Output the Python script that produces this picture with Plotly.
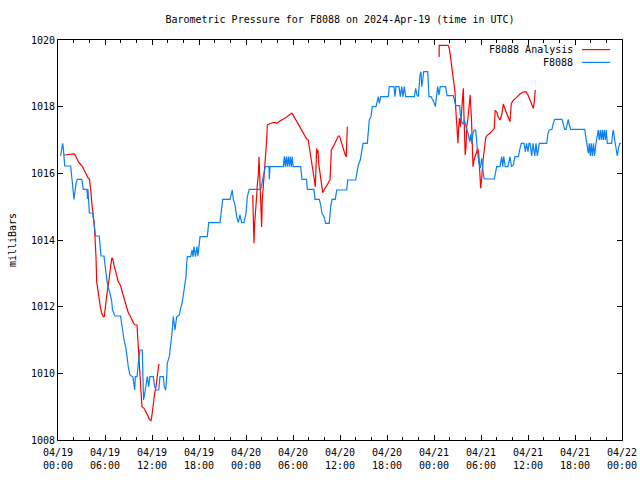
import pandas as pd
import plotly.graph_objects as go

# ---------------- data ----------------
base_time = "2024-04-19 00:00"

# F8088 station observations (hours since 04/19 00:00 UTC, millibars)
obs_hours = [0.34, 0.47, 0.60, 0.68, 0.77, 0.86, 1.62, 1.70, 1.79, 1.88, 2.04, 2.30, 2.46, 3.03, 3.15, 3.23,
             3.70, 3.77, 3.83, 4.00, 4.43, 4.51, 4.63, 4.79, 5.27, 5.36, 5.49, 5.87, 6.00, 6.13, 6.29, 6.64,
             6.86, 6.96, 7.28, 7.98, 8.17, 8.43, 8.68, 8.77, 8.97, 9.19, 9.57, 9.70, 9.79, 9.87, 10.09, 10.25,
             10.47, 10.76, 10.85, 10.92, 11.07, 11.32, 11.40, 11.58, 11.74, 12.17, 12.34, 12.51, 12.86, 13.02,
             13.44, 13.57, 13.75, 13.88, 13.95, 14.21, 14.39, 14.55, 14.72, 14.94, 15.15, 15.49, 15.66, 15.83,
             16.00, 16.17, 16.34, 16.43, 16.51, 16.94, 17.11, 17.23, 17.36, 17.55, 17.74, 17.87, 18.00, 18.13,
             19.06, 19.24, 20.68, 20.85, 21.03, 21.96, 22.12, 22.25, 22.38, 22.60, 22.81, 23.02, 23.23, 23.45,
             23.74, 24.00, 24.17, 24.42, 25.88, 26.13, 26.46, 26.94, 26.97, 27.06, 28.76, 28.89, 29.02, 29.14,
             29.27, 29.40, 29.53, 29.65, 29.78, 29.91, 30.00, 30.98, 31.15, 31.72, 31.83, 32.68, 32.81, 33.36,
             33.54, 33.70, 33.96, 34.17, 34.63, 34.81, 34.98, 35.40, 35.58, 36.86, 36.98, 38.00, 38.17, 38.34,
             38.59, 38.77, 38.94, 39.49, 39.61, 39.74, 39.96, 40.12, 40.60, 40.76, 40.89, 41.02, 41.20, 42.17,
             42.29, 42.89, 43.02, 43.15, 43.53, 43.70, 43.88, 44.04, 44.21, 44.39, 45.49, 45.66, 45.83, 46.00,
             46.21, 46.34, 46.43, 46.56, 46.69, 47.20, 47.36, 47.62, 47.96, 48.17, 48.34, 48.47, 48.64, 48.80,
             49.49, 49.66, 50.46, 50.59, 50.77, 51.28, 51.36, 51.54, 51.70, 51.87, 52.00, 52.17, 52.38, 52.56,
             52.69, 52.81, 52.94, 53.14, 53.32, 53.45, 53.58, 53.74, 53.91, 54.09, 54.17, 54.29, 54.42, 55.70,
             56.00, 56.43, 56.64, 56.77, 56.90, 57.10, 57.45, 57.70, 57.89, 58.12, 58.34, 58.76, 58.98, 59.14,
             59.49, 59.66, 59.81, 60.00, 60.13, 60.26, 60.47, 60.64, 60.86, 61.02, 61.19, 61.44, 62.39, 62.55,
             62.72, 63.06, 63.23, 63.41, 64.34, 64.51, 64.68, 64.85, 65.02, 65.14, 65.27, 65.45, 67.24, 67.40,
             67.57, 67.70, 67.83, 67.95, 68.08, 68.21, 68.36, 68.49, 68.68, 68.85, 68.97, 69.10, 69.23, 69.36,
             69.49, 69.61, 69.74, 69.87, 69.99, 70.12, 70.68, 70.81, 70.89, 71.07, 71.23, 71.40, 71.58, 71.74,
             71.87]
obs_mb = [1016.52, 1016.80, 1016.90, 1016.75, 1016.55, 1016.22, 1016.22, 1016.02, 1015.70, 1015.45, 1015.22,
          1015.70, 1015.82, 1015.82, 1015.65, 1015.52, 1015.52, 1015.23, 1015.52, 1014.81, 1014.81, 1014.60,
          1014.32, 1014.12, 1014.12, 1013.80, 1013.52, 1013.52, 1013.20, 1012.90, 1012.70, 1012.40, 1012.15,
          1011.90, 1011.72, 1011.72, 1011.40, 1011.00, 1010.75, 1010.50, 1010.20, 1009.95, 1009.89, 1009.65,
          1009.50, 1009.90, 1009.90, 1010.30, 1010.70, 1010.70, 1009.90, 1009.20, 1009.40, 1009.70, 1009.90,
          1009.60, 1009.90, 1009.90, 1009.60, 1009.50, 1009.50, 1009.90, 1009.90, 1009.60, 1009.50, 1009.90,
          1010.30, 1010.50, 1010.80, 1011.20, 1011.70, 1011.30, 1011.70, 1011.75, 1011.95, 1012.10, 1012.35,
          1012.60, 1012.90, 1013.30, 1013.50, 1013.50, 1013.70, 1013.50, 1013.80, 1013.50, 1013.80, 1013.52,
          1013.80, 1014.10, 1014.10, 1014.52, 1014.52, 1014.85, 1015.22, 1015.22, 1015.40, 1015.50, 1015.22,
          1015.05, 1014.70, 1014.52, 1014.75, 1014.52, 1014.52, 1014.80, 1015.30, 1015.52, 1015.52, 1015.80,
          1016.20, 1016.20, 1015.82, 1016.20, 1016.20, 1016.50, 1016.20, 1016.50, 1016.20, 1016.50, 1016.20,
          1016.50, 1016.20, 1016.50, 1016.20, 1016.20, 1015.82, 1015.82, 1015.52, 1015.52, 1015.22, 1015.22,
          1015.05, 1014.80, 1014.70, 1014.50, 1014.50, 1015.00, 1015.22, 1015.22, 1015.50, 1015.50, 1015.80,
          1015.80, 1016.10, 1016.25, 1016.40, 1016.65, 1016.90, 1016.90, 1017.20, 1017.60, 1017.70, 1018.00,
          1018.00, 1018.20, 1018.30, 1018.10, 1018.30, 1018.30, 1018.60, 1018.60, 1018.30, 1018.60, 1018.60,
          1018.30, 1018.60, 1018.30, 1018.60, 1018.30, 1018.30, 1018.55, 1018.35, 1018.30, 1018.95, 1019.05,
          1018.60, 1018.80, 1019.05, 1019.05, 1018.30, 1018.30, 1018.15, 1018.00, 1018.40, 1018.60, 1018.35,
          1018.60, 1018.60, 1018.33, 1018.33, 1018.17, 1018.03, 1018.03, 1017.75, 1017.55, 1017.47, 1017.60,
          1017.45, 1017.33, 1017.17, 1016.95, 1017.17, 1016.90, 1017.17, 1017.30, 1017.30, 1016.85, 1016.60,
          1016.30, 1016.16, 1016.45, 1016.20, 1016.00, 1015.83, 1015.83, 1016.20, 1016.20, 1016.50, 1016.20,
          1016.50, 1016.20, 1016.20, 1016.50, 1016.20, 1016.25, 1016.50, 1016.50, 1016.75, 1016.90, 1016.90,
          1016.65, 1016.90, 1016.65, 1016.90, 1016.90, 1016.52, 1016.90, 1016.52, 1016.90, 1016.52, 1016.90,
          1016.90, 1017.20, 1017.30, 1017.32, 1017.50, 1017.62, 1017.62, 1017.45, 1017.32, 1017.32, 1017.50,
          1017.62, 1017.45, 1017.32, 1017.32, 1017.10, 1016.75, 1016.60, 1016.90, 1016.52, 1016.90, 1016.52,
          1016.90, 1016.52, 1016.90, 1017.20, 1017.30, 1017.00, 1017.30, 1017.00, 1017.30, 1017.00, 1017.30,
          1017.00, 1017.30, 1016.90, 1016.90, 1017.20, 1017.30, 1017.00, 1016.80, 1016.52, 1016.80, 1016.90,
          1016.90]

# F8088 Analysis, three separate runs
ana1_hours = [0.80, 2.08, 2.30, 2.59, 2.94, 3.10, 3.28, 3.54, 3.70, 3.87, 4.02, 4.12, 4.21, 4.30, 4.38, 4.51,
              4.63, 4.72, 4.81, 4.85, 4.94, 5.07, 5.14, 5.27, 5.40, 5.58, 5.78, 5.91, 6.00, 6.13, 6.26, 6.34,
              6.51, 6.64, 6.77, 6.86, 6.98, 7.06, 7.19, 7.37, 7.53, 7.70, 7.88, 8.04, 8.13, 8.30, 8.46, 8.64,
              8.81, 8.97, 9.15, 9.32, 9.49, 9.66, 9.83, 10.09, 10.17, 10.25, 10.38, 10.56, 10.63, 10.72, 10.98,
              11.23, 11.49, 11.66, 11.87, 12.00, 12.17, 12.34, 12.51, 12.60, 12.68, 12.86, 12.93]
ana1_mb = [1016.55, 1016.58, 1016.50, 1016.35, 1016.25, 1016.22, 1016.12, 1016.00, 1015.90, 1015.85, 1015.82,
           1015.65, 1015.42, 1015.15, 1014.90, 1014.70, 1014.50, 1014.20, 1013.85, 1013.50, 1012.75, 1012.50,
           1012.35, 1012.20, 1012.00, 1011.80, 1011.70, 1011.70, 1011.95, 1012.15, 1012.40, 1012.60, 1012.80,
           1013.05, 1013.30, 1013.45, 1013.45, 1013.32, 1013.20, 1013.05, 1012.90, 1012.75, 1012.68, 1012.60,
           1012.50, 1012.35, 1012.20, 1012.05, 1011.90, 1011.82, 1011.75, 1011.65, 1011.58, 1011.50, 1011.45,
           1011.45, 1011.10, 1010.82, 1010.10, 1009.50, 1009.20, 1009.00, 1008.95, 1008.85, 1008.72, 1008.62,
           1008.58, 1008.75, 1009.10, 1009.40, 1009.60, 1009.80, 1010.00, 1010.25, 1010.28]

ana2_hours = [24.86, 24.93, 25.02, 25.11, 25.19, 25.28, 25.37, 25.44, 25.57, 25.66, 25.75, 25.83, 25.91, 26.00,
              26.08, 26.21, 26.30, 26.39, 26.46, 26.55, 26.64, 26.72, 27.28, 27.70, 27.92, 28.34, 28.76, 29.20,
              29.62, 29.87, 30.04, 30.47, 30.89, 31.31, 31.75, 31.95, 32.08, 32.26, 32.43, 32.59, 32.77, 32.85,
              32.97, 33.02, 33.10, 33.19, 33.28, 33.45, 33.61, 33.79, 33.96, 34.21, 34.51, 34.72, 34.81, 34.89,
              35.14, 35.36, 35.58, 35.78, 35.94, 36.13, 36.29, 36.47, 36.64, 36.80, 36.86, 36.93]
ana2_mb = [1015.35, 1014.40, 1013.90, 1014.50, 1014.70, 1015.05, 1015.35, 1015.65, 1015.95, 1016.49, 1015.80,
           1015.35, 1014.81, 1014.39, 1015.20, 1015.60, 1015.86, 1016.04, 1016.25, 1016.70, 1017.00, 1017.45,
           1017.51, 1017.53, 1017.50, 1017.57, 1017.62, 1017.69, 1017.77, 1017.80, 1017.74, 1017.57, 1017.41,
           1017.21, 1017.03, 1017.00, 1016.80, 1016.55, 1016.30, 1016.13, 1015.86, 1015.60, 1016.40, 1016.75,
           1016.60, 1016.70, 1016.30, 1015.95, 1015.60, 1015.42, 1015.50, 1015.60, 1015.70, 1015.80, 1016.20,
           1016.70, 1016.80, 1016.93, 1017.03, 1017.12, 1017.12, 1016.97, 1016.80, 1016.65, 1016.57, 1016.49,
           1016.95, 1017.40]

ana3_hours = [48.66, 48.66, 49.79, 49.94, 50.08, 50.23, 50.39, 50.55, 50.68, 50.77, 50.87, 50.97, 51.06, 51.15,
              51.26, 51.38, 51.48, 51.61, 51.74, 51.83, 51.92, 51.98, 52.09, 52.17, 52.34, 52.51, 52.62, 52.79,
              52.89, 52.98, 53.11, 53.27, 53.45, 53.58, 53.71, 53.78, 53.87, 53.96, 54.09, 54.17, 54.29, 54.47,
              54.61, 54.77, 55.15, 55.49, 55.70, 55.81, 56.00, 56.21, 56.43, 56.64, 56.85, 57.06, 57.28, 57.49,
              57.70, 57.87, 58.12, 58.56, 58.98, 59.40, 59.74, 60.00, 60.26, 60.47, 60.68, 60.80, 60.93]
ana3_mb = [1019.49, 1019.84, 1019.84, 1019.76, 1019.54, 1019.30, 1019.06, 1018.80, 1018.45, 1017.96, 1017.45,
           1017.00, 1016.90, 1017.40, 1017.66, 1017.40, 1017.81, 1018.38, 1018.55, 1017.70, 1017.00, 1016.55,
           1016.80, 1017.40, 1017.66, 1018.05, 1018.35, 1017.60, 1017.00, 1016.20, 1016.40, 1016.50, 1016.64,
           1016.75, 1016.60, 1016.30, 1015.90, 1015.55, 1015.86, 1016.25, 1016.46, 1016.79, 1017.08, 1017.14,
           1017.20, 1017.29, 1017.35, 1017.89, 1017.84, 1017.69, 1017.60, 1017.75, 1018.08, 1017.93, 1017.78,
           1017.68, 1017.55, 1018.10, 1018.19, 1018.28, 1018.38, 1018.44, 1018.45, 1018.35, 1018.19, 1018.05,
           1017.95, 1018.14, 1018.50]

tick_hours = [0, 6, 12, 18, 24, 30, 36, 42, 48, 54, 60, 66, 72]
tick_labels = ["04/19<br>00:00", "04/19<br>06:00", "04/19<br>12:00", "04/19<br>18:00",
               "04/20<br>00:00", "04/20<br>06:00", "04/20<br>12:00", "04/20<br>18:00",
               "04/21<br>00:00", "04/21<br>06:00", "04/21<br>12:00", "04/21<br>18:00",
               "04/22<br>00:00"]
y_ticks = [1008, 1010, 1012, 1014, 1016, 1018, 1020]

title_text = "Barometric Pressure for F8088 on 2024-Apr-19 (time in UTC)"
series_names = ["F8088 Analysis", "F8088"]
series_colors = ["#ff0000", "#0a80f5"]

# ---------------- build ----------------
t0 = pd.Timestamp(base_time)


def to_time(hours):
    return [t0 + pd.Timedelta(hours=h) for h in hours]


ana_x = to_time(ana1_hours) + [None] + to_time(ana2_hours) + [None] + to_time(ana3_hours)
ana_y = ana1_mb + [None] + ana2_mb + [None] + ana3_mb

FONT = "DejaVu Sans Mono"

fig = go.Figure()
fig.add_trace(go.Scatter(x=ana_x, y=ana_y, mode="lines", name=series_names[0],
                         line=dict(color=series_colors[0], width=1.2), connectgaps=False))
fig.add_trace(go.Scatter(x=to_time(obs_hours), y=obs_mb, mode="lines", name=series_names[1],
                         line=dict(color=series_colors[1], width=1.2)))

fig.update_layout(
    width=640, height=480,
    margin=dict(l=58, r=18, t=40, b=40, autoexpand=False),
    paper_bgcolor="white", plot_bgcolor="white",
    showlegend=False,
    font=dict(family=FONT, size=10, color="black"),
    title=dict(text=title_text, x=340 / 640, xanchor="center", y=1 - 19 / 480, yanchor="middle",
               font=dict(family=FONT, size=10, color="black")),
)

fig.update_xaxes(
    type="date", automargin=False,
    range=[t0, t0 + pd.Timedelta(hours=72)],
    tickmode="array", tickvals=to_time(tick_hours), ticktext=tick_labels,
    ticks="inside", ticklen=5, tickwidth=1, tickcolor="black",
    ticklabelstandoff=3,
    minor=dict(ticks="inside", ticklen=3, tickwidth=1, tickcolor="black",
               dtick=2 * 3600 * 1000, tick0=t0),
    showline=True, linecolor="black", linewidth=1, mirror="ticks",
    showgrid=False, zeroline=False,
    tickfont=dict(family=FONT, size=10, color="black"),
)
fig.update_yaxes(
    automargin=False,
    range=[1008, 1020],
    tickmode="array", tickvals=y_ticks, ticktext=[str(v) for v in y_ticks],
    ticks="inside", ticklen=5, tickwidth=1, tickcolor="black",
    showline=True, linecolor="black", linewidth=1, mirror="ticks",
    showgrid=False, zeroline=False,
    tickfont=dict(family=FONT, size=10, color="black"),
    title=dict(text="milliBars", font=dict(family=FONT, size=10, color="black"), standoff=12),
)

# gnuplot-style key: text right-aligned, line sample to its right
key_rows = [(0.976, series_names[0], series_colors[0]), (0.944, series_names[1], series_colors[1])]
for ky, name, col in key_rows:
    fig.add_annotation(x=0.9167, y=ky, xref="paper", yref="paper", text=name, showarrow=False,
                       xanchor="right", yanchor="middle", font=dict(family=FONT, size=10, color="black"))
    fig.add_shape(type="line", xref="paper", yref="paper", x0=0.929, x1=0.979, y0=ky, y1=ky,
                  line=dict(color=col, width=1.2))

# remove the default page margin so the 640x480 figure fills the window exactly
fig.write_html("out.html", config={"displayModeBar": False},
               post_script="document.body.style.margin='0px';document.body.style.overflow='hidden';")
